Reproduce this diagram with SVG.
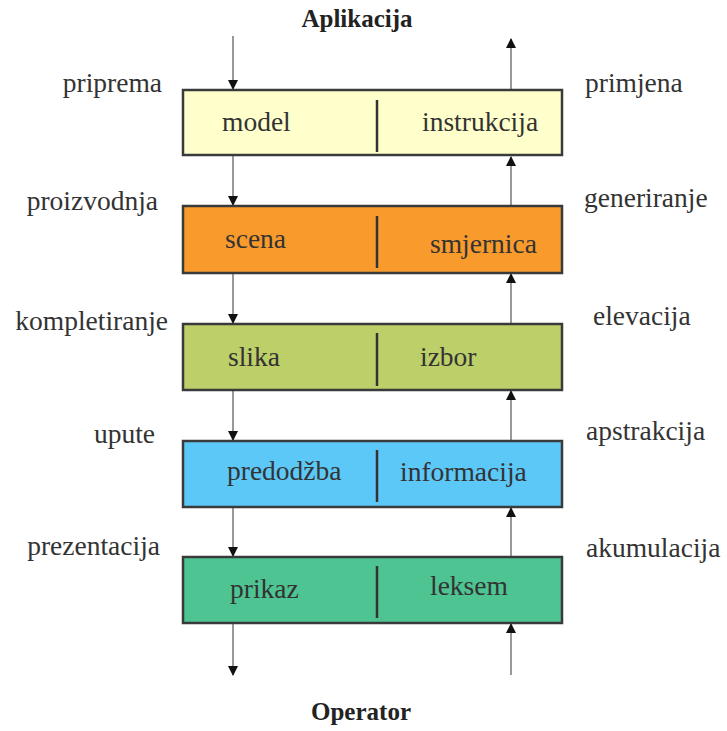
<svg xmlns="http://www.w3.org/2000/svg" width="727" height="731" viewBox="0 0 727 731" font-family="Liberation Serif, DejaVu Serif, Times New Roman, serif">
<style>
.t{font-size:27.5px;fill:#333}
.b{font-size:25px;font-weight:bold;fill:#222}
.box{stroke:#3a3a3a;stroke-width:2.5}
.div{stroke:#333;stroke-width:2.5}
.ln{stroke:#999;stroke-width:2;fill:none}
</style>
<defs>
<marker id="ah" markerWidth="10" markerHeight="10" refX="9" refY="5" orient="auto" markerUnits="userSpaceOnUse">
<path d="M0,0 L10,5 L0,10 Z" fill="#111"/>
</marker>
</defs>
<rect width="727" height="731" fill="#fff"/>
<g id="connectors">
<line class="ln" x1="233" y1="36" x2="233" y2="89" marker-end="url(#ah)"/>
<line class="ln" x1="233" y1="156" x2="233" y2="205" marker-end="url(#ah)"/>
<line class="ln" x1="233" y1="273" x2="233" y2="323" marker-end="url(#ah)"/>
<line class="ln" x1="233" y1="390" x2="233" y2="440" marker-end="url(#ah)"/>
<line class="ln" x1="233" y1="507" x2="233" y2="556" marker-end="url(#ah)"/>
<line class="ln" x1="233" y1="623" x2="233" y2="675" marker-end="url(#ah)"/>
<line class="ln" x1="511" y1="675" x2="511" y2="624" marker-end="url(#ah)"/>
<line class="ln" x1="511" y1="557" x2="511" y2="508" marker-end="url(#ah)"/>
<line class="ln" x1="511" y1="441" x2="511" y2="391" marker-end="url(#ah)"/>
<line class="ln" x1="511" y1="324" x2="511" y2="274" marker-end="url(#ah)"/>
<line class="ln" x1="511" y1="206" x2="511" y2="157" marker-end="url(#ah)"/>
<line class="ln" x1="511" y1="90" x2="511" y2="39" marker-end="url(#ah)"/>
</g>
<g id="box1">
<rect class="box" x="183" y="90" width="379" height="65" fill="#FFFFCC"/>
<line class="div" x1="377" y1="100" x2="377" y2="152"/>
<text class="t" x="222" y="131">model</text>
<text class="t" x="422" y="131">instrukcija</text>
</g>
<g id="box2">
<rect class="box" x="183" y="206" width="379" height="67" fill="#F99A2C"/>
<line class="div" x1="377" y1="216" x2="377" y2="268"/>
<text class="t" x="225" y="248">scena</text>
<text class="t" x="430" y="253">smjernica</text>
</g>
<g id="box3">
<rect class="box" x="183" y="324" width="379" height="66" fill="#BDCF68"/>
<line class="div" x1="377" y1="333" x2="377" y2="386"/>
<text class="t" x="228" y="366">slika</text>
<text class="t" x="420" y="366">izbor</text>
</g>
<g id="box4">
<rect class="box" x="183" y="441" width="379" height="66" fill="#5CC8F8"/>
<line class="div" x1="377" y1="450" x2="377" y2="502"/>
<text class="t" x="227" y="480">predodžba</text>
<text class="t" x="400" y="481">informacija</text>
</g>
<g id="box5">
<rect class="box" x="183" y="557" width="379" height="66" fill="#4DC491"/>
<line class="div" x1="377" y1="566" x2="377" y2="618"/>
<text class="t" x="230" y="598">prikaz</text>
<text class="t" x="430" y="595">leksem</text>
</g>
<g id="titles">
<text class="b" x="357" y="27" text-anchor="middle">Aplikacija</text>
<text class="b" x="361" y="720" text-anchor="middle">Operator</text>
</g>
<g id="left-labels" text-anchor="end">
<text class="t" x="162" y="92">priprema</text>
<text class="t" x="158" y="210">proizvodnja</text>
<text class="t" x="168" y="330">kompletiranje</text>
<text class="t" x="155" y="443">upute</text>
<text class="t" x="160" y="555">prezentacija</text>
</g>
<g id="right-labels">
<text class="t" x="585" y="92">primjena</text>
<text class="t" x="584" y="207">generiranje</text>
<text class="t" x="593" y="325">elevacija</text>
<text class="t" x="586" y="440">apstrakcija</text>
<text class="t" x="586" y="557">akumulacija</text>
</g>
</svg>
